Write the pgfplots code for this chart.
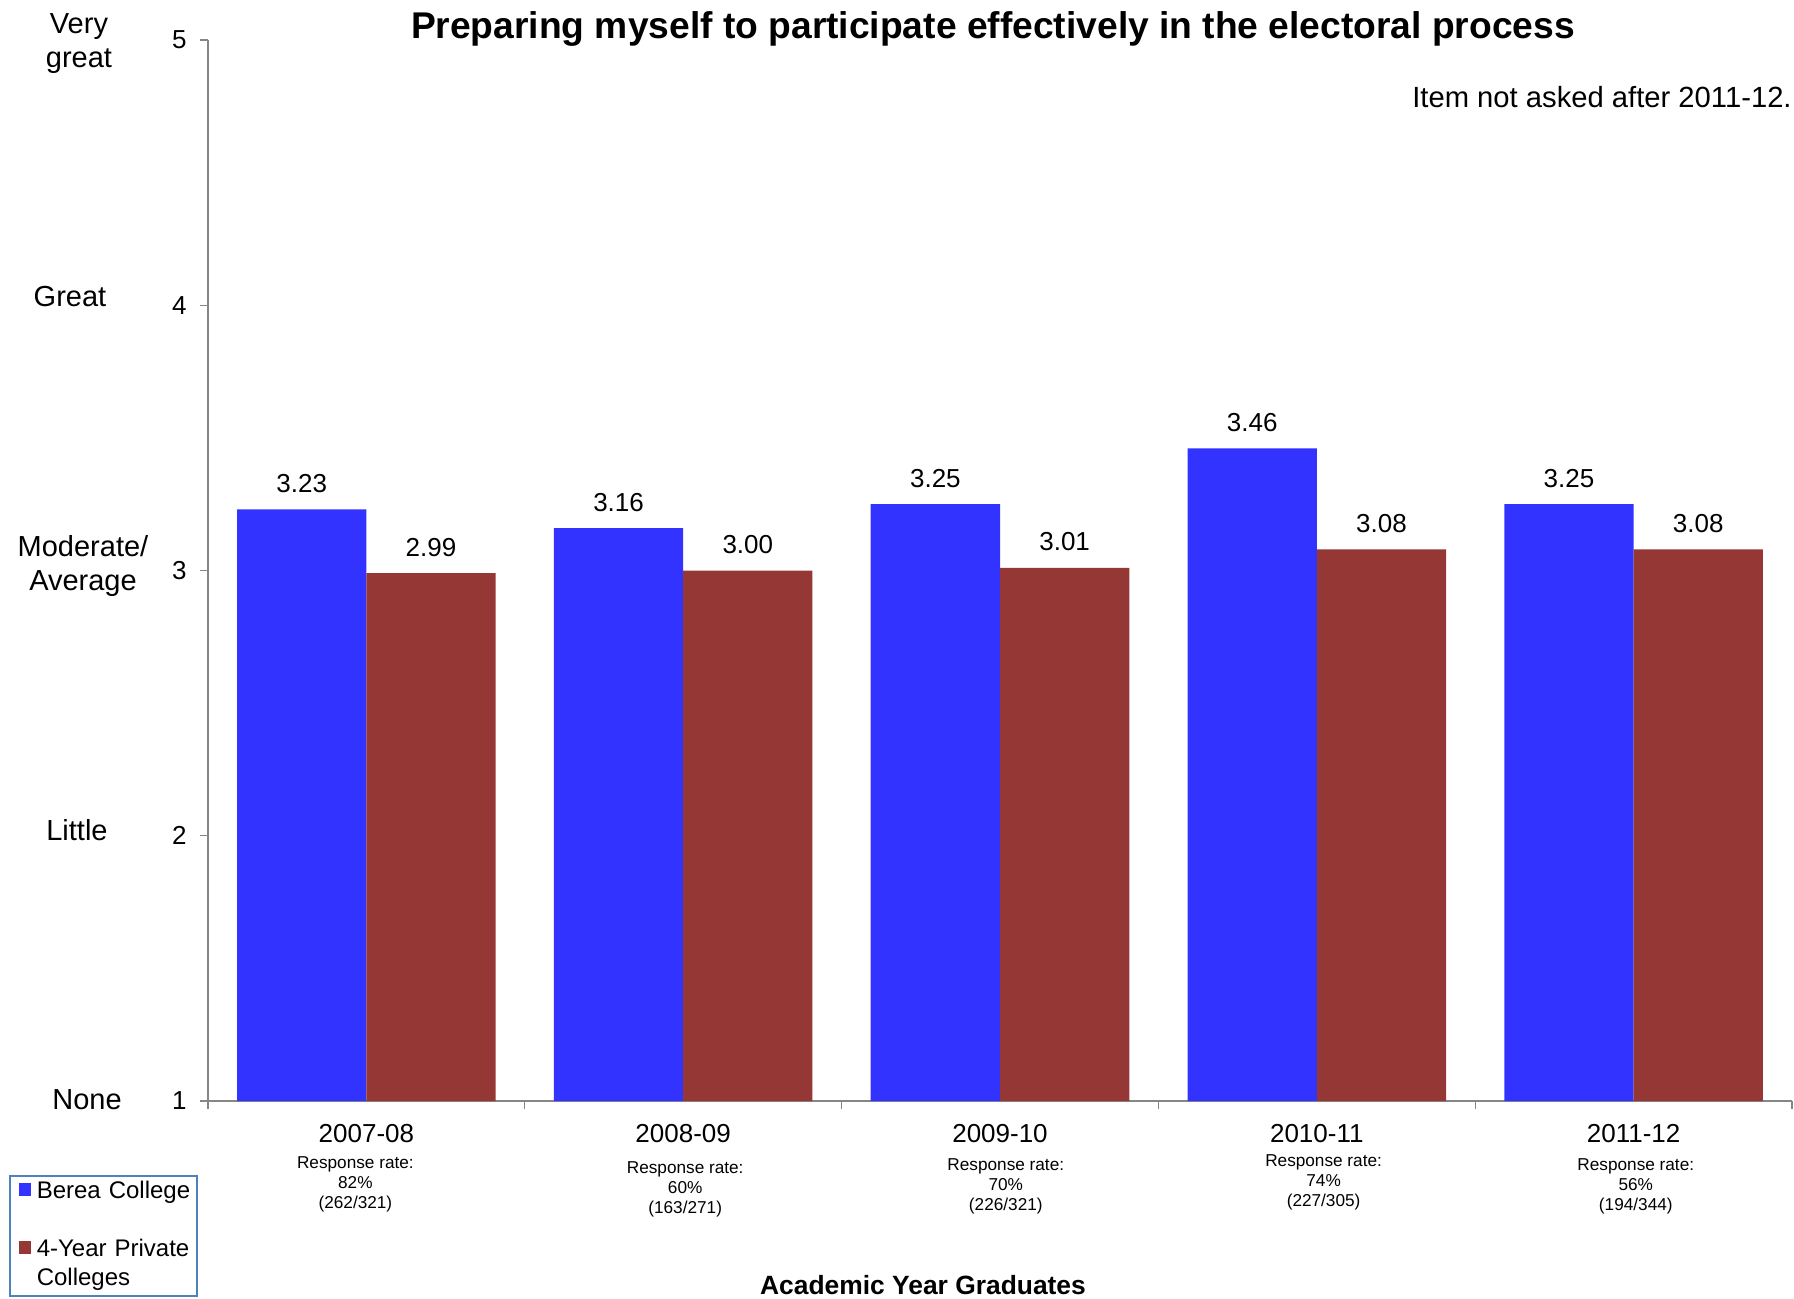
\documentclass[border=0pt]{standalone}
\usepackage{fontspec}
\setmainfont{Liberation Sans}
\usepackage{pgfplots}
\pgfplotsset{compat=1.18}
\definecolor{bblue}{HTML}{3333FF}
\definecolor{bred}{HTML}{953735}
\definecolor{axgray}{HTML}{868686}
\definecolor{legblue}{HTML}{4F81BD}
\newcommand{\fs}[2]{\fontsize{#1}{#2}\selectfont}
% year, dx, dy, pct, frac
\newcommand{\xl}[5]{\parbox[t]{90pt}{\centering\fs{13}{15}#1\par\vspace{\dimexpr3pt+#3\relax}\fs{8.6}{10}%
\makebox[0pt]{\hspace*{#2}\hspace*{#2}Response rate:}\par
\makebox[0pt]{\hspace*{#2}\hspace*{#2}#4\%}\par
\makebox[0pt]{\hspace*{#2}\hspace*{#2}(#5)}\par}}
\begin{document}
\begin{tikzpicture}
\path[use as bounding box] (-104pt,-98.5pt) rectangle (793pt,550.5pt);
\begin{axis}[
  name=ax, at={(0pt,0pt)}, anchor=south west,
  scale only axis, width=792pt, height=530.5pt,
  xmin=-0.5, xmax=4.5, ymin=1, ymax=5,
  ybar=0pt, bar width=0.408,
  axis x line*=bottom, axis y line*=left,
  axis line style={draw=axgray, line width=0.6pt},
  tick align=outside,
  tick style={draw=axgray, line width=0.6pt},
  major tick length=4pt,
  ytick={1,2,3,4,5},
  xtick={-0.5,0.5,1.5,2.5,3.5,4.5},
  xticklabels={,,,,,},
  extra x ticks={0,1,2,3,4},
  extra x tick style={major tick length=0pt, tick style={draw=none}},
  extra x tick labels={
    {\xl{2007-08}{-5.5pt}{0pt}{82}{262/321}},
    {\xl{2008-09}{1pt}{2.5pt}{60}{163/271}},
    {\xl{2009-10}{2.9pt}{1.1pt}{70}{226/321}},
    {\xl{2010-11}{3.4pt}{-1.1pt}{74}{227/305}},
    {\xl{2011-12}{1.1pt}{1.1pt}{56}{194/344}}},
  xticklabel style={anchor=base, yshift=-20.6pt, inner sep=0pt},
  yticklabel style={font=\fs{13}{15}, xshift=-3.2pt},
  /pgf/number format/assume math mode=true,
  nodes near coords={\pgfmathprintnumber[fixed,fixed zerofill,precision=2]{\pgfplotspointmeta}},
  nodes near coords style={font=\fs{13}{15}, anchor=center, yshift=13pt},
  legend image code/.code={\path (0pt,0pt) (13.5pt,0pt); \fill[#1] (4.5pt,1.2pt) rectangle (10.8pt,7.5pt);},
  legend style={at={(axis description cs:-0.12563,-0.069746)}, anchor=north west,
    draw=legblue, line width=0.8pt, inner xsep=0pt, inner ysep=1pt,
    row sep=0pt, column sep=0pt, cells={anchor=base west},
    nodes={inner sep=0pt, text depth=, text height=, text width=80pt, align=left, font=\fs{12}{14.5}}},
]
\addplot[fill=bblue, draw=none, bar shift=-0.204] coordinates {(0,3.23) (1,3.16) (2,3.25) (3,3.46) (4,3.25)};
\addlegendentry{\strut Berea College\\\strut}
\addplot[fill=bred, draw=none, bar shift=0.204] coordinates {(0,2.99) (1,3.00) (2,3.01) (3,3.08) (4,3.08)};
\addlegendentry{\strut 4-Year Private\\Colleges\strut}
\coordinate (y5) at (axis cs:-0.5,5);
\coordinate (y4) at (axis cs:-0.5,4);
\coordinate (y3) at (axis cs:-0.5,3);
\coordinate (y2) at (axis cs:-0.5,2);
\coordinate (y1) at (axis cs:-0.5,1);
\end{axis}
\node[align=center, font=\fs{14.5}{17}] at ([xshift=-64.5pt,yshift=-1.7pt]y5) {Very\\great};
\node[align=center, font=\fs{14.5}{17}] at ([xshift=-69pt,yshift=4.6pt]y4) {Great};
\node[align=center, font=\fs{14.5}{17}] at ([xshift=-62.5pt,yshift=2.4pt]y3) {Moderate/\\Average};
\node[align=center, font=\fs{14.5}{17}] at ([xshift=-65.5pt,yshift=2.9pt]y2) {Little};
\node[align=center, font=\fs{14.5}{17}] at ([xshift=-60.5pt,yshift=0.5pt]y1) {None};
\node[anchor=base, font=\bfseries\fs{18.6}{22}, inner sep=0pt] at ([xshift=392.5pt,yshift=531.1pt]ax.south west) {Preparing myself to participate effectively in the electoral process};
\node[anchor=base east, font=\fs{14.6}{17}, inner sep=0pt] at ([xshift=792pt,yshift=496.5pt]ax.south west) {Item not asked after 2011-12.};
\node[anchor=center, font=\bfseries\fs{13.2}{16}, inner sep=0pt] at ([xshift=357.5pt,yshift=-92pt]ax.south west) {Academic Year Graduates};
\end{tikzpicture}
\end{document}
